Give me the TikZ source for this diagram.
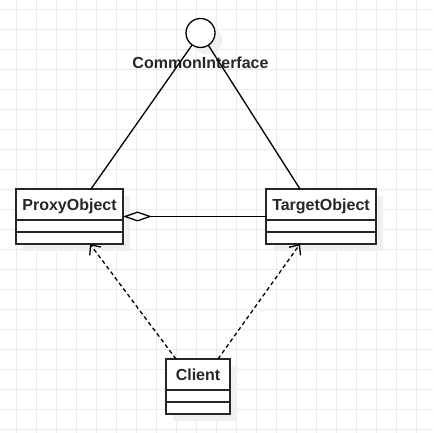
\documentclass[tikz,border=0pt]{standalone}
\usepackage{fontspec}
\setmainfont{Liberation Sans}
\usepackage{tikz}
\usetikzlibrary{arrows.meta, positioning, backgrounds}

\begin{document}
\begin{tikzpicture}[
      x=1pt, y=1pt,
      gridline/.style={draw=black!8, line width=0.8pt},
      shadowfill/.style={fill=black!6},
      classhead/.style={rectangle, draw=black!85, fill=white, line width=1.6pt, minimum height=31pt, inner sep=0pt, outer sep=0pt, text height=12pt, text depth=0pt, font=\fontsize{16}{19}\selectfont\bfseries, text=black!85},
      classpart/.style={rectangle, draw=black!85, fill=white, line width=1.6pt, minimum height=12pt, inner sep=0pt, outer sep=0pt},
      iface/.style={circle, draw=black, fill=white, line width=1.3pt, minimum size=29pt, inner sep=0pt},
      ifacetext/.style={font=\fontsize{16}{19}\selectfont\bfseries, text=black!85, inner sep=0pt},
      realize/.style={draw=black, line width=1.3pt},
      aggr/.style={{Diamond[open, length=29pt, width=10pt, line width=1.3pt]}-, draw=black, line width=1.3pt},
      dep/.style={-{Straight Barb[length=8pt, width=14pt, line width=1.3pt]}, draw=black, line width=1.3pt, dash pattern=on 4pt off 3pt}
  ]
  \useasboundingbox (0,0) rectangle (433,433);

  \node[iface] (iface) at (200.5,400) {};
  \node[ifacetext, anchor=base] (ifacename) at (200.5,364.5) {CommonInterface};

  \node[classhead, minimum width=107pt] (proxy) at (69.5,228.5) {ProxyObject};
  \node[classpart, minimum width=107pt, below=0pt of proxy] (proxyattr) {};
  \node[classpart, minimum width=107pt, below=0pt of proxyattr] (proxyops) {};

  \node[classhead, minimum width=110pt] (target) at (321,228.5) {TargetObject};
  \node[classpart, minimum width=110pt, below=0pt of target] (targetattr) {};
  \node[classpart, minimum width=110pt, below=0pt of targetattr] (targetops) {};

  \node[classhead, minimum width=64pt] (client) at (198,58.5) {Client};
  \node[classpart, minimum width=64pt, below=0pt of client] (clientattr) {};
  \node[classpart, minimum width=64pt, below=0pt of clientattr] (clientops) {};

  \draw[realize] (iface) -- ([xshift=21.5pt]proxy.north);
  \draw[realize] (iface) -- ([xshift=-21pt]target.north);

  \draw[aggr] ([yshift=-12pt]proxy.east) -- ([yshift=-12pt]target.west);

  \draw[dep] ([xshift=-22pt]client.north) -- ([xshift=20.5pt]proxyops.south);
  \draw[dep] ([xshift=20pt]client.north) -- ([xshift=-21pt]targetops.south);

  % grid and shadows behind everything
  \begin{scope}[on background layer]
    \fill[white] (0,0) rectangle (433,433);
    \foreach \gx in {16.5,36.5,...,433} \draw[gridline] (\gx,0) -- (\gx,433);
    \foreach \gy in {4,24,...,433} \draw[gridline] (0,\gy) -- (433,\gy);
    \fill[shadowfill] ([shift={(7pt,-7pt)}]iface.center) circle (14.5pt);
    \fill[shadowfill] ([shift={(7pt,-7pt)}]proxy.north west) rectangle ([shift={(7pt,-7pt)}]proxyops.south east);
    \fill[shadowfill] ([shift={(7pt,-7pt)}]target.north west) rectangle ([shift={(7pt,-7pt)}]targetops.south east);
    \fill[shadowfill] ([shift={(7pt,-7pt)}]client.north west) rectangle ([shift={(7pt,-7pt)}]clientops.south east);
  \end{scope}

\end{tikzpicture}
\end{document}
